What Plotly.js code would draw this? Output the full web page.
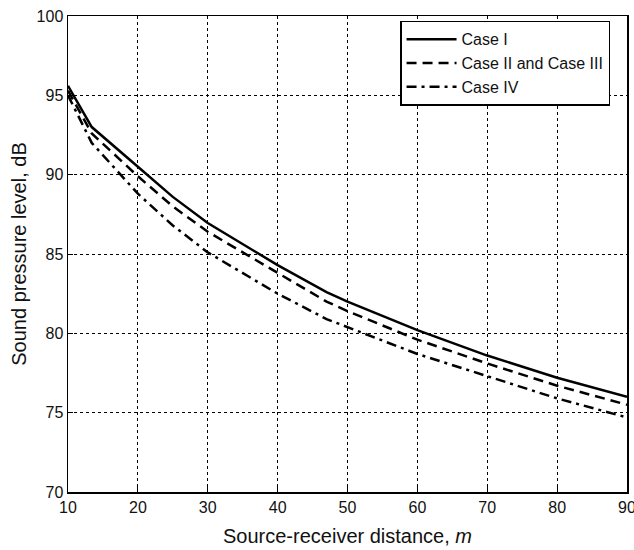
<!DOCTYPE html>
<html>
<head>
<meta charset="utf-8">
<script src="https://cdn.plot.ly/plotly-3.0.1.min.js"></script>
<style>html,body{margin:0;padding:0;background:#fff;}#chart{width:634px;height:550px;}</style>
</head>
<body>
<div id="chart"></div>
<script>
const distance = [10, 13.4, 20, 25, 30, 40, 47, 50, 60, 70, 80, 90];
const caseI = [95.6, 93.0, 90.5, 88.6, 86.95, 84.3, 82.6, 82.0, 80.2, 78.6, 77.2, 76.0];
const caseIIandIII = [95.3, 92.6, 89.9, 88.0, 86.4, 83.8, 82.0, 81.4, 79.6, 78.1, 76.7, 75.5];
const caseIV = [95.0, 92.0, 88.8, 86.8, 85.1, 82.5, 80.9, 80.4, 78.7, 77.3, 75.9, 74.7];
const seriesNames = ["Case I", "Case II and Case III", "Case IV"];

const traces = [
  {x: distance, y: caseI, name: seriesNames[0], mode: "lines", line: {color: "#000", width: 2.5}},
  {x: distance, y: caseIIandIII, name: seriesNames[1], mode: "lines", line: {color: "#000", width: 2.5, dash: "10px,6px"}},
  {x: distance, y: caseIV, name: seriesNames[2], mode: "lines", line: {color: "#000", width: 2.5, dash: "10px,5px,3px,5px"}}
];

const font = {family: "Liberation Sans, Arial, sans-serif", color: "#111"};
const layout = {
  width: 634, height: 550,
  margin: {l: 68, r: 7, t: 16, b: 58},
  paper_bgcolor: "#fff", plot_bgcolor: "#fff",
  font: Object.assign({size: 16}, font),
  showlegend: true,
  legend: {
    x: 0.594, y: 0.99, xanchor: "left", yanchor: "top",
    bgcolor: "#fff", bordercolor: "#000", borderwidth: 1.5,
    font: Object.assign({size: 16}, font),
    tracegroupgap: 0, itemwidth: 50
  },
  xaxis: {
    range: [10, 90], dtick: 10, tick0: 10,
    showline: true, linecolor: "#000", linewidth: 1.5, mirror: true,
    showgrid: true, gridcolor: "#000", griddash: "dot", gridwidth: 1,
    ticks: "inside", ticklen: 5, tickcolor: "#000",
    zeroline: false, ticklabeloverflow: "allow",
    tickfont: Object.assign({size: 16}, font),
    title: {text: "Source-receiver distance, <i>m</i>", font: Object.assign({size: 20}, font), standoff: 14}
  },
  yaxis: {
    range: [70, 100], dtick: 5, tick0: 70,
    showline: true, linecolor: "#000", linewidth: 1.5, mirror: true,
    showgrid: true, gridcolor: "#000", griddash: "dot", gridwidth: 1,
    ticks: "inside", ticklen: 5, tickcolor: "#000",
    zeroline: false, ticklabeloverflow: "allow",
    tickfont: Object.assign({size: 16}, font),
    title: {text: "Sound pressure level, dB", font: Object.assign({size: 20}, font), standoff: 4}
  }
};

Plotly.newPlot("chart", traces, layout, {displayModeBar: false, staticPlot: true});
</script>
</body>
</html>
